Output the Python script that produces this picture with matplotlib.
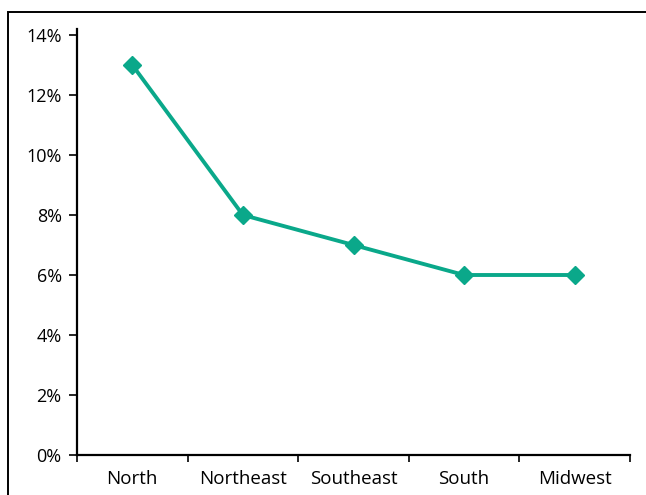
import matplotlib
matplotlib.use("Agg")
import matplotlib.pyplot as plt
from matplotlib.patches import Rectangle
from matplotlib.ticker import FixedLocator, PercentFormatter

categories = ["North", "Northeast", "Southeast", "South", "Midwest"]
values = [13, 8, 7, 6, 6]
yticks = [0, 2, 4, 6, 8, 10, 12, 14]

plt.rcParams['font.family'] = ['Open Sans', 'DejaVu Sans']

fig = plt.figure(figsize=(6.46, 4.95), dpi=100)
ax = fig.add_axes([77/646, 1-455/495, (630-77)/646, (455-29)/495])

x = list(range(len(categories)))
ax.plot(x, values, color="#0aa88a", lw=2.8, marker="D", ms=9, mec="#0aa88a", mfc="#0aa88a")

ax.set_xlim(-0.5, len(categories)-0.5)
ax.set_ylim(0, 14.2)
ax.set_yticks(yticks)
ax.yaxis.set_major_formatter(PercentFormatter(decimals=0))
ax.set_xticks(x)
ax.set_xticklabels(categories)
ax.xaxis.set_minor_locator(FixedLocator([i-0.5 for i in range(len(categories)+1)]))
ax.tick_params(axis='x', which='major', length=0, pad=11, labelsize=13.5)
ax.tick_params(axis='x', which='minor', length=5, width=1.2, direction='out')
ax.tick_params(axis='y', length=6, width=1.2, direction='out', labelsize=13, pad=5)
for s in ['top', 'right']:
    ax.spines[s].set_visible(False)
for s in ['left', 'bottom']:
    ax.spines[s].set_linewidth(1.6)

fig.patches.append(Rectangle((8/646, -0.2), 1.2, 0.2 + 1 - 12/495, transform=fig.transFigure,
                             fill=False, edgecolor='black', lw=1.4))
fig.savefig("out.png", dpi=100)
